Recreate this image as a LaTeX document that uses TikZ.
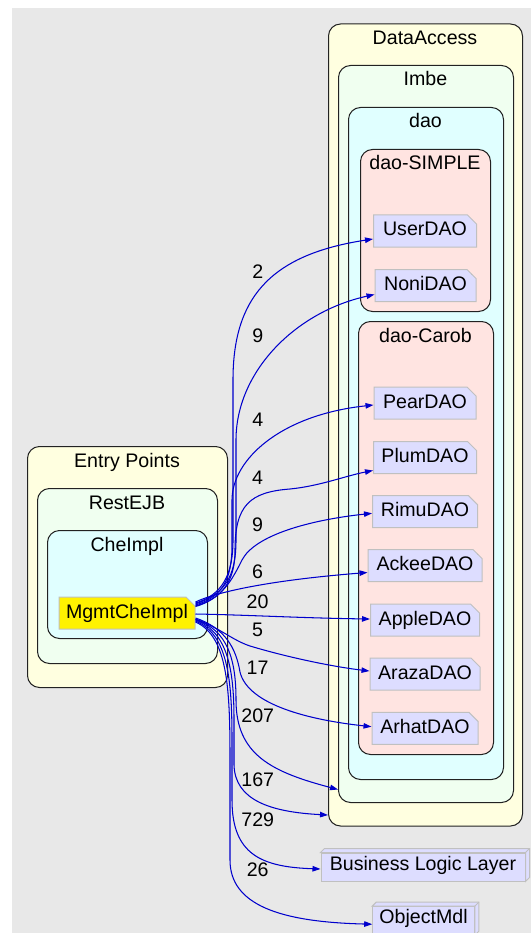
\documentclass[tikz,border=0pt]{standalone}
\usepackage{fontspec}
\setmainfont{Liberation Sans}
\usetikzlibrary{arrows.meta,shapes.misc}
\definecolor{bgc}{HTML}{E8E8E8}
\definecolor{lyel}{HTML}{FFFFE0}
\definecolor{hdew}{HTML}{F0FFF0}
\definecolor{lcyan}{HTML}{E0FFFF}
\definecolor{mrose}{HTML}{FFE4E1}
\definecolor{nodec}{HTML}{DDDDFF}
\definecolor{nodeb}{HTML}{C0C0C0}
\definecolor{clb}{HTML}{222222}
\definecolor{edgec}{HTML}{0000CC}
\begin{document}
\begin{tikzpicture}[x=1pt,y=-1pt,
  font=\fontsize{19.6}{23}\selectfont,
  cl/.style={draw=clb,line width=1pt,rounded corners=12pt,inner sep=0pt,anchor=north west},
  ctitle/.style={anchor=base,inner sep=0pt},
  note/.style={chamfered rectangle,chamfered rectangle corners=north east,
    chamfered rectangle xsep=4.5pt,chamfered rectangle ysep=4.5pt,
    draw=nodeb,line width=1pt,fill=nodec,minimum height=32pt,inner sep=0pt,
    text height=14pt,text depth=4pt,
    path picture={\draw[nodeb,line width=0.8pt]
      ([xshift=-4.5pt]path picture bounding box.north east) |- ([yshift=-4.5pt]path picture bounding box.north east);}},
  boxthree/.style={rectangle,draw=nodeb,line width=1pt,fill=nodec,minimum height=28pt,
    inner sep=0pt,text height=14pt,text depth=8pt},
  edg/.style={draw=edgec,line width=1.05pt,-{Triangle[length=8pt,width=5.5pt]}},
  elab/.style={inner sep=0pt}]
\useasboundingbox (0,0) rectangle (531,933);
\clip (0,0) rectangle (531,933);
\fill[bgc] (12,8) rectangle (531,933);

% clusters
\node[cl,fill=lyel,minimum width=194pt,minimum height=802pt] (da) at (328,23.5) {};
\node[cl,fill=hdew,minimum width=175pt,minimum height=737pt] (im) at (338,65) {};
\node[cl,fill=lcyan,minimum width=155pt,minimum height=672pt] (dao) at (348,107) {};
\node[cl,fill=mrose,minimum width=130pt,minimum height=162pt] (ds) at (360,149) {};
\node[cl,fill=mrose,minimum width=135pt,minimum height=433pt] (dc) at (358,321) {};
\node[cl,fill=lyel,minimum width=200pt,minimum height=241pt] (ep) at (27,446) {};
\node[cl,fill=hdew,minimum width=180pt,minimum height=175pt] (re) at (37,488) {};
\node[cl,fill=lcyan,minimum width=160pt,minimum height=108pt] (ci) at (47,530) {};

\node[ctitle] (daT) at (425,44.5) {DataAccess};
\node[ctitle] (imT) at (425.5,86) {Imbe};
\node[ctitle] (daoT) at (425.5,128) {dao};
\node[ctitle] (dsT) at (425,170) {dao-SIMPLE};
\node[ctitle] (dcT) at (425.5,342) {dao-Carob};
\node[ctitle] (epT) at (127,467) {Entry Points};
\node[ctitle] (reT) at (127,509) {RestEJB};
\node[ctitle] (ciT) at (127,551) {CheImpl};

% nodes
\node[note,fill=yellow,minimum width=136pt] (m) at (127,613) {MgmtCheImpl};
\node[note,minimum width=103pt] (u) at (425,231) {UserDAO};
\node[note,minimum width=101pt] (n) at (425.5,285.5) {NoniDAO};
\node[note,minimum width=102pt] (pe) at (425,403) {PearDAO};
\node[note,minimum width=103pt] (pl) at (425,457.5) {PlumDAO};
\node[note,minimum width=105pt] (ri) at (425,511.7) {RimuDAO};
\node[note,minimum width=114pt] (ac) at (425,565.5) {AckeeDAO};
\node[note,minimum width=109pt] (ap) at (425,620) {AppleDAO};
\node[note,minimum width=110pt] (ar) at (425,674) {ArazaDAO};
\node[note,minimum width=106pt] (ah) at (425,728.3) {ArhatDAO};

\node[boxthree,minimum width=204pt] (bl) at (423,867) {Business Logic Layer};
\filldraw[fill=nodec,draw=nodeb,line width=1pt] (bl.north west) -- ++(4pt,4pt) -- ([shift={(4pt,4pt)}]bl.north east) -- ([shift={(4pt,4pt)}]bl.south east) -- (bl.south east) -- (bl.north east) -- cycle;
\draw[nodeb,line width=1pt] (bl.north east) -- ++(4pt,4pt);
\node[boxthree,minimum width=101.6pt] (om) at (423.5,920.7) {ObjectMdl};
\filldraw[fill=nodec,draw=nodeb,line width=1pt] (om.north west) -- ++(4pt,4pt) -- ([shift={(4pt,4pt)}]om.north east) -- ([shift={(4pt,4pt)}]om.south east) -- (om.south east) -- (om.north east) -- cycle;
\draw[nodeb,line width=1pt] (om.north east) -- ++(4pt,4pt);

% edges
\draw[edg] ([yshift=10pt]m.east) .. controls (222,595) and (233,575) .. (233,540) -- (233,380) .. controls (233,300) and (268,255) .. ([yshift=-8pt]u.west);
\draw[edg] ([yshift=9pt]m.east) .. controls (224,594) and (236,578) .. (236,540) -- (236,440) .. controls (236,372) and (295,312) .. ([yshift=-9pt]n.west);
\draw[edg] ([yshift=8pt]m.east) .. controls (222,597) and (232,580) .. (232,545) -- (232,500) .. controls (232,460) and (280,415) .. ([yshift=-2pt]pe.west);
\draw[edg] ([yshift=7pt]m.east) .. controls (222,598) and (235,582) .. (235,550) .. controls (235,505) and (250,492) .. (290,489) .. controls (320,486) and (345,476) .. ([yshift=-13pt]pl.west);
\draw[edg] ([yshift=6.5pt]m.east) .. controls (222,599) and (232,580) .. (242,560) .. controls (255,535) and (310,520) .. ([yshift=-1.6pt]ri.west);
\draw[edg] ([yshift=11pt]m.east) .. controls (212,594) and (260,581) .. ([yshift=-7pt]ac.west);
\draw[edg] ([yshift=-1pt]m.east) .. controls (250,615) and (300,618) .. ([yshift=1pt]ap.west);
\draw[edg] ([yshift=-6pt]m.east) .. controls (220,628) and (232,640) .. (250,646) .. controls (290,658) and (335,667) .. ([yshift=3pt]ar.west);
\draw[edg] ([yshift=-5pt]m.east) .. controls (225,628) and (236,648) .. (240,672) .. controls (248,705) and (310,720) .. ([yshift=1.6pt]ah.west);
\draw[edg] ([yshift=-6.5pt]m.east) .. controls (228,630) and (236,660) .. (236,700) .. controls (236,755) and (272,772) .. ([yshift=13.5pt]im.south west);
\draw[edg] ([yshift=-7pt]m.east) .. controls (228,632) and (234,670) .. (234,720) -- (234,765) .. controls (235,800) and (270,812) .. ([yshift=11.5pt]da.south west);
\draw[edg] ([yshift=-8pt]m.east) .. controls (228,634) and (232,680) .. (232,740) -- (232,800) .. controls (232,855) and (262,867) .. ([yshift=-2pt]bl.west);
\draw[edg] ([yshift=-9pt]m.east) .. controls (228,636) and (230,690) .. (230,760) -- (230,860) .. controls (230,905) and (280,922) .. ([yshift=-3.5pt]om.west);

% edge labels
\node[elab] (l1) at (257.7,271.7) {2};
\node[elab] (l2) at (257.7,336) {9};
\node[elab] (l3) at (257.7,420) {4};
\node[elab] (l4) at (257.5,477.3) {4};
\node[elab] (l5) at (257.5,524.3) {9};
\node[elab] (l6) at (257.5,571.7) {6};
\node[elab] (l7) at (257.5,601.7) {20};
\node[elab] (l8) at (257.5,630) {5};
\node[elab] (l9) at (257.5,667.3) {17};
\node[elab] (l10) at (257.7,716) {207};
\node[elab] (l11) at (257.7,779.3) {167};
\node[elab] (l12) at (257.7,820) {729};
\node[elab] (l13) at (257.7,870) {26};
\end{tikzpicture}
\end{document}
